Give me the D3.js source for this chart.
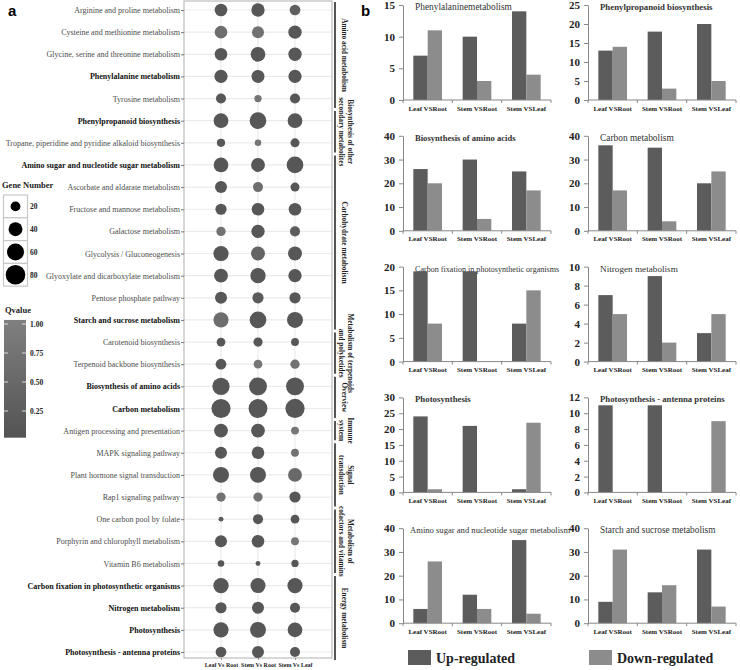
<!DOCTYPE html>
<html><head><meta charset="utf-8">
<script src="https://cdn.jsdelivr.net/npm/d3@7"></script>
<style>body{margin:0;background:#fff}svg{display:block}text{font-family:"Liberation Serif","Times New Roman",serif}</style>
</head><body><svg id="c" width="740" height="670"></svg>
<script>
// ---------- Panel a data ----------
const pathways = ["Arginine and proline metabolism","Cysteine and methionine metabolism","Glycine, serine and threonine metabolism","Phenylalanine metabolism","Tyrosine metabolism","Phenylpropanoid biosynthesis","Tropane, piperidine and pyridine alkaloid biosynthesis","Amino sugar and nucleotide sugar metabolism","Ascorbate and aldarate metabolism","Fructose and mannose metabolism","Galactose metabolism","Glycolysis / Gluconeogenesis","Glyoxylate and dicarboxylate metabolism","Pentose phosphate pathway","Starch and sucrose metabolism","Carotenoid biosynthesis","Terpenoid backbone biosynthesis","Biosynthesis of amino acids","Carbon metabolism","Antigen processing and presentation","MAPK signaling pathway","Plant hormone signal transduction","Rap1 signaling pathway","One carbon pool by folate","Porphyrin and chlorophyll metabolism","Vitamin B6 metabolism","Carbon fixation in photosynthetic organisms","Nitrogen metabolism","Photosynthesis","Photosynthesis - antenna proteins"];
const highlighted = ["Phenylalanine metabolism","Phenylpropanoid biosynthesis","Amino sugar and nucleotide sugar metabolism","Starch and sucrose metabolism","Biosynthesis of amino acids","Carbon metabolism","Carbon fixation in photosynthetic organisms","Nitrogen metabolism","Photosynthesis","Photosynthesis - antenna proteins"];
const comparisons = ["Leaf Vs Root","Stem Vs Root","Stem Vs Leaf"];
const geneLeafRoot = [33,33,33,36,21,45,14,45,30,26,18,48,40,30,48,16,24,62,76,40,30,53,18,5,30,9,49,26,48,24];
const geneStemRoot = [37,30,45,35,11,58,9,40,21,33,37,40,48,26,58,18,16,67,74,40,33,53,18,21,33,5,47,30,53,30];
const geneStemLeaf = [24,37,37,36,21,45,17,58,17,33,21,40,37,26,53,13,18,67,77,13,13,40,26,16,13,11,48,21,45,21];
const qLeafRoot = [0.1,0.6,0.1,0.1,0.1,0.1,0.1,0.1,0.1,0.1,0.7,0.1,0.1,0.1,0.6,0.1,0.1,0.1,0.1,0.1,0.1,0.1,0.7,0.2,0.1,0.1,0.1,0.1,0.1,0.1];
const qStemRoot = [0.1,0.7,0.1,0.1,0.75,0.1,0.8,0.1,0.6,0.1,0.1,0.4,0.1,0.2,0.1,0.1,0.8,0.1,0.1,0.1,0.1,0.1,0.7,0.1,0.1,0.2,0.1,0.1,0.1,0.1];
const qStemLeaf = [0.3,0.1,0.1,0.1,0.1,0.1,0.1,0.1,0.1,0.1,0.2,0.1,0.1,0.1,0.1,0.1,0.7,0.1,0.1,0.8,0.7,0.5,0.1,0.1,0.8,0.1,0.1,0.1,0.1,0.1];
const geneLegend = [20,40,60,80];
const qTicks = [1.00,0.75,0.50,0.25];
const groups = [
  {lines:["Amino acid metabolism"], from:0, to:4},
  {lines:["Biosynthesis of other","secondary metabolites"], from:5, to:6},
  {lines:["Carbohydrate metabolism"], from:7, to:14},
  {lines:["Metabolism of terpenoids","and polyketides"], from:15, to:16},
  {lines:["Overview"], from:17, to:18},
  {lines:["Immune","system"], from:19, to:19},
  {lines:["Signal","transduction"], from:20, to:22},
  {lines:["Metabolism of","cofactors and vitamins"], from:23, to:25},
  {lines:["Energy metabolism"], from:26, to:29}
];

// ---------- Panel b data ----------
const barTitles = ["Phenylalaninemetabolism","Phenylpropanoid biosynthesis","Biosynthesis of amino acids","Carbon metabolism","Carbon fixation in photosynthetic organisms","Nitrogen metabolism","Photosynthesis","Photosynthesis - antenna proteins","Amino sugar and nucleotide sugar metabolism","Starch and sucrose metabolism"];
const barCategories = ["Leaf VSRoot","Stem VSRoot","Stem VSLeaf"];
const upRegulated = [[7,10,14],[13,18,20],[26,30,25],[36,35,20],[19,19,8],[7,9,3],[24,21,1],[11,11,0],[6,12,35],[9,13,31]];
const downRegulated = [[11,3,4],[14,3,5],[20,5,17],[17,4,25],[8,0,15],[5,2,5],[1,0,22],[0,0,9],[26,6,4],[31,16,7]];
const yMax = [15,25,40,40,20,10,30,12,40,40];
const yStep = [5,5,10,10,5,2,5,2,10,10];
const legendLabels = ["Up-regulated","Down-regulated"];

const svg = d3.select("#c");
const UP = "#5c5c5c", DOWN = "#8c8c8c";
const SERIF = "Liberation Serif, Times New Roman, serif";

// ---------- Panel a ----------
const fx = {l:184, r:332, t:1, b:658};
const y = d3.scalePoint().domain(pathways).range([10, 652]);
const x = d3.scalePoint().domain(comparisons).range([221, 295]);
const r = d3.scaleSqrt().domain([0,80]).range([0, 9.8]);
const col = d3.scaleLinear().domain([0,1]).range(["#525252","#7f7f7f"]);

const pa = svg.append("g");
pa.selectAll("line.h").data(pathways).join("line").attr("x1",fx.l).attr("x2",fx.r)
  .attr("y1",d=>y(d)).attr("y2",d=>y(d)).attr("stroke","#ebebeb").attr("stroke-width",1.2);
pa.selectAll("line.v").data(comparisons).join("line").attr("y1",fx.t).attr("y2",fx.b)
  .attr("x1",d=>x(d)).attr("x2",d=>x(d)).attr("stroke","#ebebeb").attr("stroke-width",1.2);
pa.append("rect").attr("x",fx.l).attr("y",fx.t).attr("width",fx.r-fx.l).attr("height",fx.b-fx.t)
  .attr("fill","none").attr("stroke","#bdbdbd").attr("stroke-width",1.2);

const gy = pa.append("g").attr("transform",`translate(${fx.l},0)`).call(d3.axisLeft(y).tickSize(3).tickPadding(1));
gy.select(".domain").remove();
gy.selectAll(".tick line").attr("stroke","#777");
gy.selectAll(".tick text").attr("font-size",8)
  .attr("font-weight",d=>highlighted.includes(d)?"bold":"normal")
  .attr("fill",d=>highlighted.includes(d)?"#111":"#4d4d4d")
  .attr("font-family",SERIF);

const gx = pa.append("g").attr("transform",`translate(0,${fx.b})`).call(d3.axisBottom(x).tickSize(2).tickPadding(2.5));
gx.select(".domain").remove();
gx.selectAll(".tick line").attr("stroke","#999");
gx.selectAll(".tick text").attr("font-size",6).attr("font-weight","bold").attr("fill","#222").attr("font-family",SERIF);

const series = [geneLeafRoot, geneStemRoot, geneStemLeaf];
const qs = [qLeafRoot, qStemRoot, qStemLeaf];
const pts = [];
comparisons.forEach((c,ci)=>pathways.forEach((p,pi)=>pts.push({c,p,n:series[ci][pi],q:qs[ci][pi]})));
pa.selectAll("circle.b").data(pts).join("circle")
  .attr("cx",d=>x(d.c)).attr("cy",d=>y(d.p)).attr("r",d=>r(d.n)).attr("fill",d=>col(d.q));

// group brackets
const step = y.step();
const gg = pa.append("g");
groups.forEach((g,i)=>{
  const y0 = i===0 ? y(pathways[g.from]) - 8 : y(pathways[g.from]) - step/2 + 1.5;
  const y1 = i===groups.length-1 ? y(pathways[g.to]) + 8 : y(pathways[g.to]) + step/2 - 1.5;
  gg.append("line").attr("x1",335).attr("x2",335).attr("y1",y0).attr("y2",y1).attr("stroke","#555").attr("stroke-width",2);
  const yc = (y0+y1)/2;
  const n = g.lines.length;
  g.lines.forEach((t,li)=>{
    const bx = n===1 ? 341.5 : (li===0 ? 348 : 339);
    gg.append("text").attr("transform",`translate(${bx},${yc}) rotate(90)`)
      .attr("text-anchor","middle").attr("font-size",7.3).attr("font-weight","bold").attr("fill","#222").text(t);
  });
});

// panel letters
svg.append("text").attr("x",8).attr("y",16).attr("font-size",15).attr("font-weight","bold")
  .style("font-family","Liberation Sans, Arial, sans-serif").text("a");
svg.append("text").attr("x",361).attr("y",16).attr("font-size",15).attr("font-weight","bold")
  .style("font-family","Liberation Sans, Arial, sans-serif").text("b");

// gene number legend
const lg = svg.append("g");
lg.append("text").attr("x",2).attr("y",188).attr("font-size",8.5).attr("font-weight","bold").attr("fill","#222").text("Gene Number");
const boxH = 22.8;
geneLegend.forEach((v,i)=>{
  const by = 195 + i*boxH;
  lg.append("rect").attr("x",3.5).attr("y",by).attr("width",24).attr("height",boxH).attr("fill","#fff").attr("stroke","#c8c8c8").attr("stroke-width",1.2);
  lg.append("circle").attr("cx",15.5).attr("cy",by+boxH/2).attr("r",r(v)).attr("fill","#000");
  lg.append("text").attr("x",30).attr("y",by+boxH/2+3).attr("font-size",7.5).attr("font-weight","bold").attr("fill","#222").text(v);
});

// Qvalue colour bar
const qy = d3.scaleLinear().domain([0,1]).range([440,324]);
lg.append("text").attr("x",5).attr("y",313).attr("font-size",8.5).attr("font-weight","bold").attr("fill","#222").text("Qvalue");
const defs = svg.append("defs");
const grad = defs.append("linearGradient").attr("id","qg").attr("x1",0).attr("x2",0).attr("y1",1).attr("y2",0);
grad.append("stop").attr("offset","0%").attr("stop-color",col(0.02));
grad.append("stop").attr("offset","100%").attr("stop-color",col(1.03));
lg.append("rect").attr("x",4).attr("y",qy(1.035)).attr("width",22).attr("height",qy(0.02)-qy(1.035)).attr("fill","url(#qg)");
qTicks.forEach(t=>{
  lg.append("line").attr("x1",4).attr("x2",8).attr("y1",qy(t)).attr("y2",qy(t)).attr("stroke","#ddd").attr("stroke-width",1);
  lg.append("line").attr("x1",22).attr("x2",26).attr("y1",qy(t)).attr("y2",qy(t)).attr("stroke","#ddd").attr("stroke-width",1);
  lg.append("text").attr("x",30).attr("y",qy(t)+3).attr("font-size",7.5).attr("font-weight","bold").attr("fill","#222").text(d3.format(".2f")(t));
});

// ---------- Panel b ----------
// title typography per chart (weight, size) to match the reference's lettering
const titleFont = [["normal",9.4],["bold",8.8],["bold",8.6],["normal",9.4],["normal",8.1],["normal",9.2],["bold",8.8],["bold",8.7],["normal",8.6],["normal",9.3]];
const colX = [403, 588], W = 148, H = 95;
barTitles.forEach((title,i)=>{
  const cx0 = colX[i%2];
  const base = 100 + Math.floor(i/2)*130.8;
  const top = base - H;
  const g = svg.append("g");
  const ys = d3.scaleLinear().domain([0,yMax[i]]).range([base, top]);
  const xb = d3.scaleBand().domain(barCategories).range([cx0, cx0+W]);
  const xi = d3.scaleBand().domain(["up","down"]).range([0, xb.bandwidth()]).paddingOuter(0.72);
  const rows = barCategories.map((c,k)=>({c, up:upRegulated[i][k], down:downRegulated[i][k]}));
  g.selectAll("rect.u").data(rows).join("rect")
    .attr("x",d=>xb(d.c)+xi("up")).attr("width",xi.bandwidth())
    .attr("y",d=>ys(d.up)).attr("height",d=>base-ys(d.up)).attr("fill",UP);
  g.selectAll("rect.d").data(rows).join("rect")
    .attr("x",d=>xb(d.c)+xi("down")).attr("width",xi.bandwidth())
    .attr("y",d=>ys(d.down)).attr("height",d=>base-ys(d.down)).attr("fill",DOWN);
  const ay = g.append("g").attr("transform",`translate(${cx0},0)`)
    .call(d3.axisLeft(ys).tickValues(d3.range(0,yMax[i]+0.001,yStep[i])).tickSize(4).tickSizeOuter(0).tickPadding(4).tickFormat(d3.format("d")));
  ay.select(".domain").attr("stroke","#888");
  ay.selectAll(".tick line").attr("stroke","#888");
  ay.selectAll(".tick text").attr("font-size",11).attr("font-weight","bold").attr("fill","#222").attr("font-family",SERIF);
  g.append("line").attr("x1",cx0).attr("x2",cx0+W).attr("y1",base).attr("y2",base).attr("stroke","#888");
  [...barCategories.map(c=>xb(c)), cx0+W].forEach(v=>{
    g.append("line").attr("x1",v).attr("x2",v).attr("y1",base).attr("y2",base+3).attr("stroke","#888");
  });
  barCategories.forEach(c=>{
    g.append("text").attr("x",xb(c)+xb.bandwidth()/2).attr("y",base+10.5).attr("text-anchor","middle")
      .attr("font-size",7).attr("font-weight","bold").attr("fill","#222").text(c);
  });
  g.append("text").attr("x",cx0 + (i===8 ? 7 : 12)).attr("y",top+5).attr("font-size",titleFont[i][1])
    .attr("font-weight",titleFont[i][0]).attr("fill","#333").text(title);
});

// legend b
legendLabels.forEach((t,i)=>{
  const lx = [408, 589][i];
  svg.append("rect").attr("x",lx).attr("y",650).attr("width",23).attr("height",15).attr("fill",i===0?UP:DOWN);
  svg.append("text").attr("x",lx+28).attr("y",663).attr("font-size",14).attr("font-weight","bold").attr("fill","#222").text(t);
});
</script></body></html>
